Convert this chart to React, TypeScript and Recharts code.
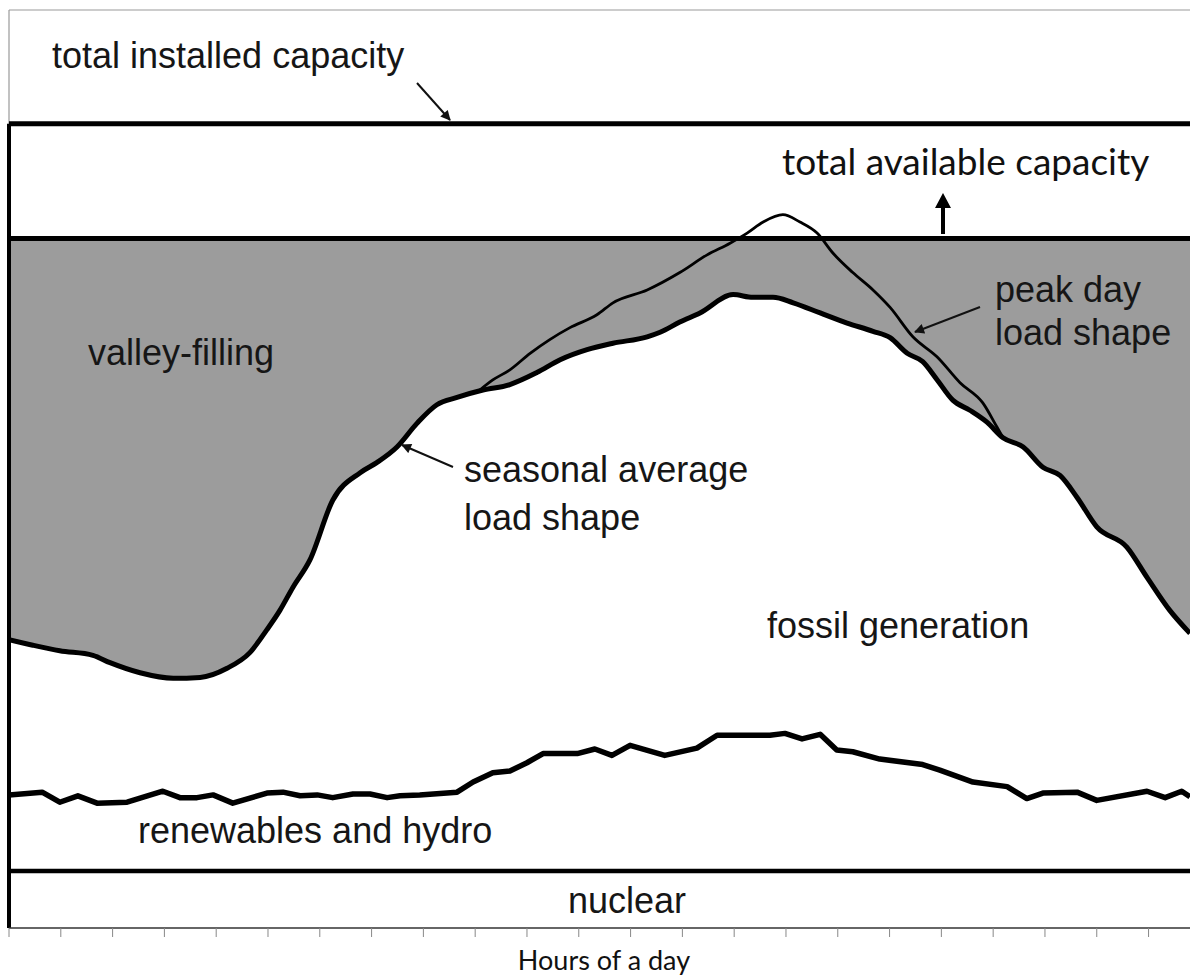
import React from 'react';
import { ComposedChart, Line, Area, XAxis, YAxis, ReferenceLine } from 'recharts';

// hour ticks along the bottom axis (the right end of the day is cropped)
const HOUR_TICKS = [0, 1, 2, 3, 4, 5, 6, 7, 8, 9, 10, 11, 12, 13, 14, 15, 16, 17, 18, 19, 20, 21, 22];

// capacity levels, % of plot height
const INSTALLED_CAPACITY = 87.6;
const AVAILABLE_CAPACITY = 75.1;
const NUCLEAR_OUTPUT = 6.2;

// seasonal average load shape
const seasonalHour = [0, 0.46, 0.98, 1.62, 1.95, 2.53, 3.17, 3.69, 4.21, 4.65, 4.98, 5.23, 5.48, 5.81, 6.25, 6.78, 7.1, 7.49, 7.88, 8.26, 8.65, 9.15, 9.67, 10.19, 10.64, 11.16, 11.66, 12.32, 12.57, 12.95, 13.34, 13.98, 14.36, 14.75, 15.14, 15.66, 16.18, 16.68, 17.01, 17.34, 17.64, 17.92, 18.22, 18.55, 18.88, 19.19, 19.58, 19.96, 20.29, 20.62, 21.0, 21.58, 21.97, 22.41, 22.8];
const seasonalLoad = [31.4, 30.8, 30.2, 29.7, 28.9, 27.8, 27.2, 27.3, 28.3, 30.0, 32.5, 34.6, 37.1, 40.1, 46.6, 49.6, 50.7, 52.4, 55.0, 57.0, 57.8, 58.6, 59.2, 60.5, 61.9, 63.0, 63.7, 64.4, 64.9, 66.0, 67.0, 69.0, 68.7, 68.7, 68.1, 67.0, 65.9, 65.0, 64.3, 62.6, 61.7, 59.7, 57.5, 56.4, 55.1, 53.4, 52.4, 50.2, 49.3, 46.9, 43.7, 41.5, 38.2, 34.6, 32.1];

// peak day load shape (only where it departs from the seasonal shape)
const peakHour = [9.09, 9.34, 9.67, 10.06, 10.44, 10.83, 11.35, 11.66, 12.32, 12.95, 13.47, 13.92, 14.25, 14.56, 14.94, 15.27, 15.6, 15.91, 16.29, 16.68, 17.01, 17.45, 17.92, 18.36, 18.8, 19.07, 19.19];
const peakLoad = [58.6, 59.7, 60.8, 62.6, 64.1, 65.4, 66.8, 68.1, 69.5, 71.4, 73.3, 74.6, 75.7, 76.9, 77.7, 76.9, 75.7, 73.5, 71.4, 69.5, 67.6, 64.4, 62.2, 59.4, 57.2, 54.6, 53.4];

// renewables and hydro
const renewHour = [0, 0.64, 0.98, 1.33, 1.7, 2.28, 2.97, 3.3, 3.63, 3.94, 4.32, 4.98, 5.29, 5.62, 5.95, 6.25, 6.64, 6.97, 7.3, 7.55, 7.93, 8.65, 8.96, 9.34, 9.67, 10.0, 10.31, 10.97, 11.31, 11.64, 11.99, 12.66, 13.28, 13.67, 14.69, 14.98, 15.31, 15.66, 15.98, 16.29, 16.81, 17.64, 17.97, 18.61, 19.27, 19.65, 19.96, 20.62, 21.0, 21.97, 22.32, 22.64, 22.8];
const renewOutput = [14.5, 14.8, 13.7, 14.4, 13.6, 13.7, 14.9, 14.2, 14.2, 14.5, 13.6, 14.7, 14.8, 14.4, 14.5, 14.2, 14.6, 14.6, 14.2, 14.4, 14.5, 14.8, 15.9, 16.9, 17.1, 18.0, 19.0, 19.0, 19.5, 18.8, 19.9, 18.8, 19.6, 21.0, 21.0, 21.2, 20.6, 21.1, 19.4, 19.2, 18.4, 17.8, 17.2, 15.9, 15.4, 14.1, 14.7, 14.8, 13.9, 14.9, 14.2, 14.9, 14.3];

const seasonalData = seasonalHour.map((h, i) => ({ h, v: seasonalLoad[i], band: [seasonalLoad[i], AVAILABLE_CAPACITY] }));
const peakData = peakHour.map((h, i) => ({ h, v: peakLoad[i] }));
const renewData = renewHour.map((h, i) => ({ h, v: renewOutput[i] }));

const sans = { fontFamily: '"Liberation Sans", Arial, sans-serif', fontSize: 36, fill: '#161616' };
const humanist = { fontFamily: 'Lato, "Open Sans", sans-serif', fill: '#111' };

export default function App() {
  return (
    <div style={{ position: 'absolute', left: 0, top: 0, width: 1190, height: 975, background: '#fff', overflow: 'hidden' }}>
      <ComposedChart width={1190} height={975} margin={{ top: 10, right: 0, left: 9, bottom: 0 }}>
        <XAxis
          dataKey="h"
          type="number"
          domain={[0, 22.8]}
          ticks={HOUR_TICKS}
          allowDataOverflow
          height={47}
          tickSize={9}
          tickFormatter={() => ''}
          axisLine={{ stroke: '#333', strokeWidth: 1.5 }}
          tickLine={{ stroke: '#888', strokeWidth: 1 }}
        />
        <YAxis type="number" domain={[0, 100]} hide />
        <Area data={seasonalData} dataKey="band" type="monotone" fill="#9c9c9c" fillOpacity={1} stroke="none" isAnimationActive={false} />
        <ReferenceLine y={100} stroke="#999" strokeWidth={1.2} />
        <ReferenceLine x={0} stroke="#999" strokeWidth={1.2} />
        <ReferenceLine segment={[{ x: 0, y: 0 }, { x: 0, y: INSTALLED_CAPACITY }]} stroke="#000" strokeWidth={4} />
        <ReferenceLine y={INSTALLED_CAPACITY} stroke="#000" strokeWidth={5} />
        <ReferenceLine y={AVAILABLE_CAPACITY} stroke="#000" strokeWidth={5} />
        <ReferenceLine y={NUCLEAR_OUTPUT} stroke="#000" strokeWidth={4.5} />
        <Line data={peakData} dataKey="v" type="monotone" stroke="#000" strokeWidth={2.8} dot={false} activeDot={false} isAnimationActive={false} />
        <Line data={seasonalData} dataKey="v" type="monotone" stroke="#000" strokeWidth={5} dot={false} activeDot={false} isAnimationActive={false} />
        <Line data={renewData} dataKey="v" type="linear" stroke="#000" strokeWidth={5.5} strokeLinejoin="round" dot={false} activeDot={false} isAnimationActive={false} />
      </ComposedChart>
      <svg width={1190} height={975} style={{ position: 'absolute', left: 0, top: 0, pointerEvents: 'none' }}>
        <defs>
          <marker id="head" viewBox="0 0 10 10" refX="9" refY="5" markerWidth="5.5" markerHeight="5" orient="auto">
            <path d="M0,0 L10,5 L0,10 z" fill="#111" />
          </marker>
        </defs>
        <text x={52} y={68} style={sans}>total installed capacity</text>
        <line x1={417} y1={83} x2={450} y2={120} stroke="#111" strokeWidth={2} markerEnd="url(#head)" />
        <text x={782} y={175} style={{ ...humanist, fontSize: 37 }}>total available capacity</text>
        <line x1={943} y1={234} x2={943} y2={205} stroke="#000" strokeWidth={4} />
        <path d="M935,208 L951,208 L943,193 z" fill="#000" />
        <text x={88} y={365} style={sans}>valley-filling</text>
        <text x={464} y={482} style={sans}>seasonal average</text>
        <text x={464} y={530} style={sans}>load shape</text>
        <line x1={453} y1={467} x2={402} y2={445} stroke="#111" strokeWidth={2} markerEnd="url(#head)" />
        <text x={995} y={302} style={sans}>peak day</text>
        <text x={995} y={345} style={sans}>load shape</text>
        <line x1={980} y1={307} x2={915} y2={332} stroke="#111" strokeWidth={2} markerEnd="url(#head)" />
        <text x={767} y={638} style={sans}>fossil generation</text>
        <text x={138} y={843} style={sans}>renewables and hydro</text>
        <text x={568} y={913} style={sans}>nuclear</text>
        <text x={604} y={970} textAnchor="middle" style={{ ...humanist, fontSize: 27 }}>Hours of a day</text>
      </svg>
    </div>
  );
}
